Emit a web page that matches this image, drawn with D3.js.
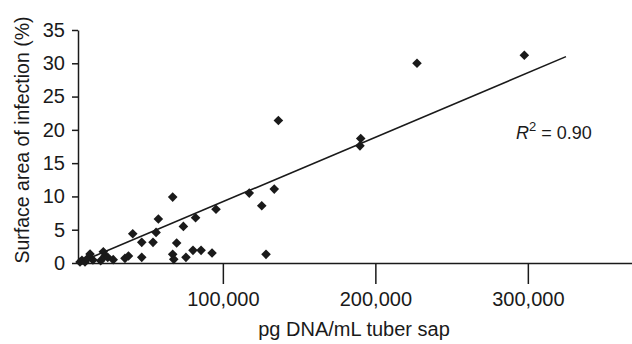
<!DOCTYPE html>
<html>
<head>
<meta charset="utf-8">
<script src="https://cdn.jsdelivr.net/npm/d3@7"></script>
<style>
  body { margin: 0; background: #fff; }
  svg { display: block; font-family: "Liberation Sans", Arial, sans-serif; }
  .axis path, .axis line { stroke: #1a1a1a; stroke-width: 1.5; }
  .axis text { fill: #1a1a1a; font-size: 20px; font-family: "Liberation Sans", Arial, sans-serif; }
</style>
</head>
<body>
<div id="chart"></div>
<script>
// pg DNA/mL tuber sap
const dnaValues = [
  6300, 7600, 9600, 10900, 12900, 14800, 19900, 21600, 22700, 24500,
  28100, 35800, 38100, 40900, 46800, 46800, 54200, 56200, 57700, 67100,
  67100, 67800, 69700, 74100, 75800, 80400, 82100, 85700, 92900, 95500,
  117300, 125500, 128300, 133700, 136400, 190400, 189900, 227300, 297700
];
// surface area of infection (%)
const infectionValues = [
  0.15, 0.4, 0.15, 0.6, 1.35, 0.45, 0.35, 1.7, 1.05, 0.85,
  0.5, 0.7, 1.05, 4.4, 3.1, 0.85, 3.1, 4.6, 6.6, 9.9,
  1.3, 0.55, 3.0, 5.5, 0.85, 1.9, 6.8, 1.9, 1.5, 8.07,
  10.5, 8.6, 1.3, 11.1, 21.4, 18.7, 17.6, 30.0, 31.2
];
const fitX = [5000, 325000];
const fitY = [0, 31.0];
const xTicks = [100000, 200000, 300000];
const yTicks = [0, 5, 10, 15, 20, 25, 30, 35];

const width = 632, height = 344;
const svg = d3.select('#chart').append('svg')
    .attr('width', width)
    .attr('height', height);

const x = d3.scaleLinear().domain([5000, 368300]).range([78, 632]);
const y = d3.scaleLinear().domain([0, 35]).range([263, 30]);

// axes
svg.append('g')
    .attr('class', 'axis')
    .attr('transform', `translate(0,${y(0)})`)
    .call(d3.axisBottom(x).tickValues(xTicks).tickFormat(d3.format(','))
        .tickSizeInner(21).tickSizeOuter(0).tickPadding(8));

svg.append('g')
    .attr('class', 'axis')
    .attr('transform', `translate(${x(5000)},0)`)
    .call(d3.axisLeft(y).tickValues(yTicks).tickSizeInner(6).tickSizeOuter(0).tickPadding(7));

// regression line
const fit = fitX.map((d, i) => [d, fitY[i]]);
svg.append('path')
    .datum(fit)
    .attr('fill', 'none')
    .attr('stroke', '#1a1a1a')
    .attr('stroke-width', 1.6)
    .attr('d', d3.line().x(d => x(d[0])).y(d => y(d[1])));

// data points (diamonds)
const points = dnaValues.map((d, i) => ({dna: d, area: infectionValues[i]}));
const r = 4.8;
svg.append('g')
    .selectAll('path')
    .data(points)
    .enter().append('path')
    .attr('fill', '#1a1a1a')
    .attr('transform', d => `translate(${x(d.dna)},${y(d.area)})`)
    .attr('d', `M0,${-r}L${r},0L0,${r}L${-r},0Z`);

// R squared
const rText = svg.append('text')
    .attr('x', 516)
    .attr('y', 138.5)
    .attr('fill', '#1a1a1a')
    .style('font-size', '18px');
rText.append('tspan').style('font-style', 'italic').text('R');
rText.append('tspan').attr('dy', -8).style('font-size', '13px').text('2');
rText.append('tspan').attr('dy', 8).text(' = 0.90');

// axis titles
svg.append('text')
    .attr('x', 354)
    .attr('y', 336)
    .attr('text-anchor', 'middle')
    .attr('fill', '#1a1a1a')
    .style('font-size', '20px')
    .text('pg DNA/mL tuber sap');

svg.append('text')
    .attr('transform', 'translate(29,140) rotate(-90)')
    .attr('text-anchor', 'middle')
    .attr('fill', '#1a1a1a')
    .style('font-size', '19.5px')
    .text('Surface area of infection (%)');
</script>
</body>
</html>
